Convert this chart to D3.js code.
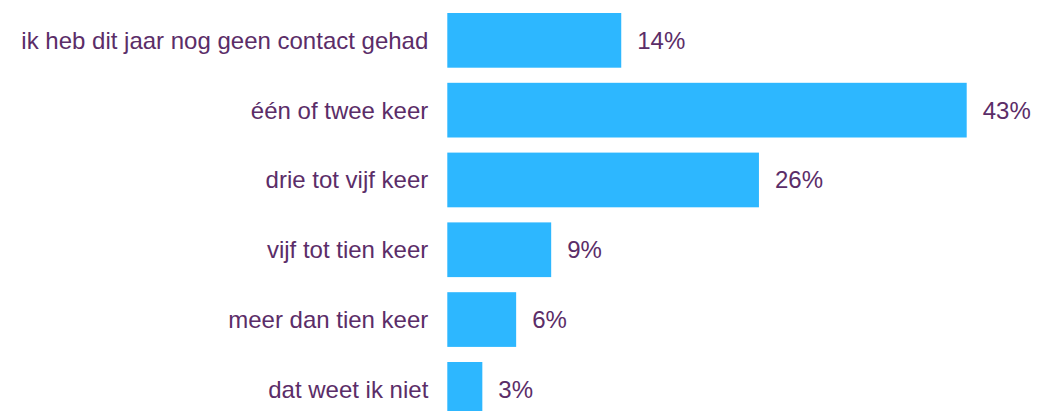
<!DOCTYPE html>
<html><head><meta charset="utf-8">
<script src="https://cdn.jsdelivr.net/npm/d3@7"></script>
<style>html,body{margin:0;padding:0;background:#fff;overflow:hidden}</style>
</head><body>
<svg id="chart" width="1037" height="411"></svg>
<script>
const categories = ["ik heb dit jaar nog geen contact gehad","één of twee keer","drie tot vijf keer","vijf tot tien keer","meer dan tien keer","dat weet ik niet"];
const values = [14.4, 43.0, 25.8, 8.6, 5.7, 2.9];

const svg = d3.select("#chart");
const x0 = 447.3, x1 = 966.7;
const x = d3.scaleLinear().domain([0, 43.0]).range([x0, x1]);
const bandStep = 69.8, bandGap = 15.1, topY = 13;
const y = d3.scaleBand().domain(categories)
  .range([topY, topY + bandStep * categories.length - bandGap])
  .paddingInner(bandGap / bandStep).paddingOuter(0);
const barColor = "#2db7ff", textColor = "#5b2d68";
const font = "'Liberation Sans', Arial, sans-serif";

svg.selectAll("rect.bar").data(values).join("rect")
  .attr("class","bar")
  .attr("x", x(0))
  .attr("y", (d,i) => y(categories[i]))
  .attr("width", d => x(d) - x(0))
  .attr("height", y.bandwidth())
  .attr("fill", barColor);

svg.selectAll("text.cat").data(categories).join("text")
  .attr("class","cat")
  .attr("x", x(0) - 19)
  .attr("y", d => y(d) + y.bandwidth()/2)
  .attr("dy", "0.35em")
  .attr("text-anchor","end")
  .attr("font-family", font).attr("font-size", 24)
  .attr("fill", textColor)
  .text(d => d);

svg.selectAll("text.val").data(values).join("text")
  .attr("class","val")
  .attr("x", d => x(d) + 16)
  .attr("y", (d,i) => y(categories[i]) + y.bandwidth()/2)
  .attr("dy", "0.35em")
  .attr("font-family", font).attr("font-size", 24)
  .attr("fill", textColor)
  .text(d => d3.format(".0f")(d) + "%");
</script>
</body></html>
